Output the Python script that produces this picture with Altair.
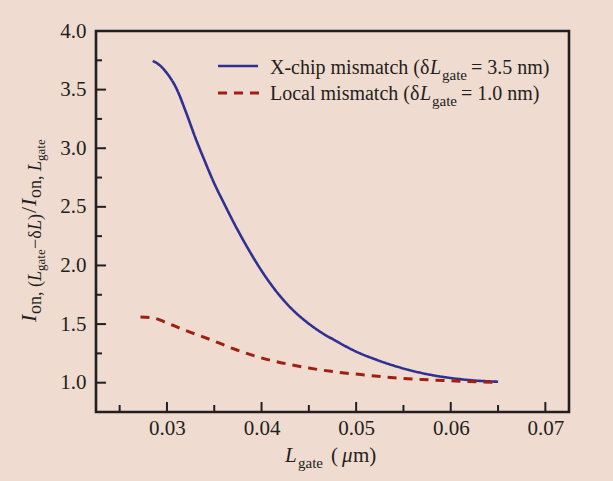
import altair as alt
import pandas as pd

# ---------------- data ----------------
blue_x = [0.0285, 0.0292, 0.0300, 0.0310, 0.0320, 0.0330, 0.0340, 0.0350, 0.0360,
          0.0370, 0.0380, 0.0390, 0.0400, 0.0415, 0.0430, 0.0445, 0.0460, 0.0480,
          0.0500, 0.0520, 0.0540, 0.0560, 0.0580, 0.0600, 0.0620, 0.0650]
blue_y = [3.745, 3.71, 3.64, 3.51, 3.31, 3.09, 2.89, 2.70, 2.535,
          2.375, 2.225, 2.085, 1.955, 1.785, 1.645, 1.535, 1.445, 1.35,
          1.265, 1.20, 1.145, 1.10, 1.065, 1.04, 1.022, 1.008]

red_x = [0.0272, 0.0285, 0.0300, 0.0315, 0.0330, 0.0350, 0.0370, 0.0390, 0.0410,
         0.0430, 0.0450, 0.0480, 0.0510, 0.0540, 0.0570, 0.0600, 0.0630, 0.0650]
red_y = [1.56, 1.553, 1.51, 1.46, 1.415, 1.355, 1.29, 1.235, 1.19,
         1.155, 1.125, 1.09, 1.065, 1.042, 1.027, 1.016, 1.007, 1.003]

series_names = ["X-chip", "Local"]
x_major = [0.03, 0.04, 0.05, 0.06, 0.07]
x_minor = [0.025, 0.035, 0.045, 0.055, 0.065]
y_major = [1.0, 1.5, 2.0, 2.5, 3.0, 3.5, 4.0]
y_minor = [1.25, 1.75, 2.25, 2.75, 3.25, 3.75]

X_DOMAIN = [0.0225, 0.0725]
Y_DOMAIN = [0.75, 4.0]

BG = "#EFDBCF"
INK = "#231F20"
BLUE = "#2E3192"
RED = "#9E2010"
FONT = "Liberation Serif"

W, H = 473, 381
PL, PT = 96, 31

df = pd.concat([
    pd.DataFrame({"x": blue_x, "y": blue_y, "series": series_names[0]}),
    pd.DataFrame({"x": red_x, "y": red_y, "series": series_names[1]}),
])

xs = alt.Scale(domain=X_DOMAIN, nice=False, zero=False)
ys = alt.Scale(domain=Y_DOMAIN, nice=False, zero=False)

x_axis = alt.Axis(values=x_major, format=".2f", title=None, ticks=False,
                  domain=False, grid=False, labelFont=FONT, labelFontSize=21,
                  labelColor=INK, labelPadding=5, labelFlush=False)
y_axis = alt.Axis(values=y_major, format=".1f", title=None, ticks=False,
                  domain=False, grid=False, labelFont=FONT, labelFontSize=21,
                  labelColor=INK, labelPadding=10, labelFlush=False,
                  labelOverlap=False)

lines = alt.Chart(df).mark_line(interpolate="monotone").encode(
    x=alt.X("x:Q", scale=xs, axis=x_axis),
    y=alt.Y("y:Q", scale=ys, axis=y_axis),
    color=alt.Color("series:N", scale=alt.Scale(domain=series_names, range=[BLUE, RED]), legend=None),
    strokeDash=alt.StrokeDash("series:N", scale=alt.Scale(domain=series_names, range=[[1, 0], [9, 7]]), legend=None),
    strokeWidth=alt.StrokeWidth("series:N", scale=alt.Scale(domain=series_names, range=[2.6, 3.0]), legend=None),
    order=alt.Order("x:Q"),
)

# inward ticks
def xticks(vals, length):
    return alt.Chart(pd.DataFrame({"x": vals})).mark_rule(color=INK, strokeWidth=2).encode(
        x=alt.X("x:Q", scale=xs, axis=x_axis), y=alt.value(H), y2=alt.value(H - length))

def yticks(vals, length):
    return alt.Chart(pd.DataFrame({"y": vals})).mark_rule(color=INK, strokeWidth=2).encode(
        y=alt.Y("y:Q", scale=ys, axis=y_axis), x=alt.value(0), x2=alt.value(length))

# text helper (absolute page coords)
def txt(s, x, y, size, italic=False, angle=0):
    kw = dict(font=FONT, fontSize=size, color=INK, align="left", baseline="alphabetic")
    if italic:
        kw["fontStyle"] = "italic"
    if angle:
        kw["angle"] = angle
    return alt.Chart(pd.DataFrame({"t": [s]})).mark_text(**kw).encode(
        text="t:N", x=alt.value(x - PL), y=alt.value(y - PT))

pieces = []
# legend
leg = pd.DataFrame({"a": [0]})
pieces.append(alt.Chart(leg).mark_rule(color=BLUE, strokeWidth=2.6).encode(
    x=alt.value(218 - PL), x2=alt.value(258 - PL), y=alt.value(66 - PT)))
pieces.append(alt.Chart(leg).mark_rule(color=RED, strokeWidth=3, strokeDash=[9, 7]).encode(
    x=alt.value(218 - PL), x2=alt.value(260 - PL), y=alt.value(93 - PT)))
pieces += [
    txt("X-chip mismatch (δ", 270, 74, 20),
    txt("L", 430, 74, 20, italic=True),
    txt("gate", 442, 80, 15),
    txt("= 3.5 nm)", 471, 74, 20),
    txt("Local mismatch (δ", 270, 100, 20),
    txt("L", 420, 100, 20, italic=True),
    txt("gate", 432, 106, 15),
    txt("= 1.0 nm)", 461, 100, 20),
]
# x title
pieces += [
    txt("L", 285, 462, 21, italic=True),
    txt("gate", 298, 468, 15),
    txt("(", 331, 462, 21),
    txt("μ", 342, 462, 21, italic=True),
    txt("m)", 353, 462, 21),
]
# y title (rotated, reading upward)
MB, SB, SSB = 36, 41, 45
pieces += [
    txt("I", MB, 322, 22, italic=True, angle=270),
    txt("on, (", SB, 314, 18, angle=270),
    txt("L", SB, 281, 18, italic=True, angle=270),
    txt("gate", SSB, 271, 13, angle=270),
    txt("−δ", SB, 249, 18, angle=270),
    txt("L", SB, 230, 18, italic=True, angle=270),
    txt(")", SB, 220, 18, angle=270),
    txt("/", MB, 213, 22, angle=270),
    txt("I", MB, 206, 22, italic=True, angle=270),
    txt("on, ", SB, 198, 18, angle=270),
    txt("L", SB, 171, 18, italic=True, angle=270),
    txt("gate", SSB, 161, 13, angle=270),
]

chart = alt.layer(
    lines,
    xticks(x_major, 10), xticks(x_minor, 7),
    yticks(y_major, 10), yticks(y_minor, 6),
    *pieces,
).properties(
    width=W, height=H,
    padding={"left": PL, "top": PT, "right": 613 - PL - W, "bottom": 481 - PT - H},
    autosize=alt.AutoSizeParams(type="none"),
    background=BG,
).configure_view(stroke=INK, strokeWidth=2.6, fill=BG)

chart.save("out.html", embed_options={"renderer": "svg", "actions": False})
